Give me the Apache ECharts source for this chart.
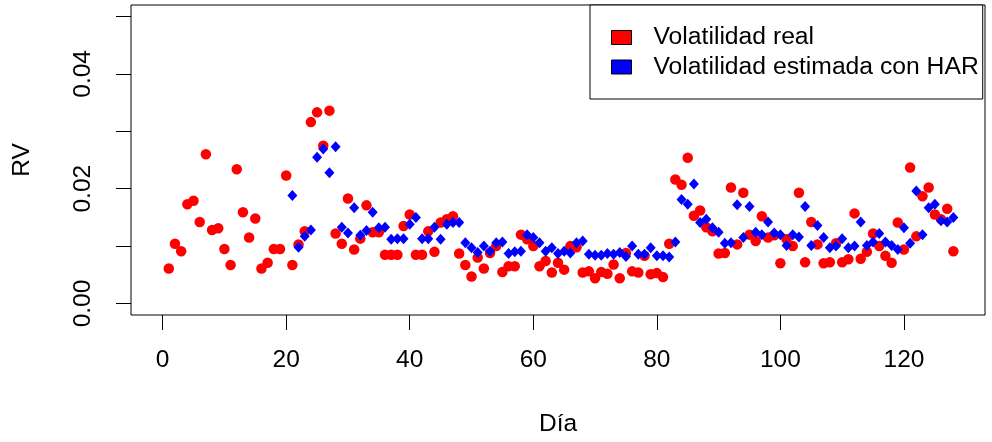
<!DOCTYPE html>
<html>
<head>
    <meta charset="utf-8">
    <title>Volatilidad real vs HAR</title>
    <script src="https://cdn.jsdelivr.net/npm/echarts@6/dist/echarts.min.js"></script>
    <style>
        html, body { margin: 0; padding: 0; background: #fff; }
        #chart1 { width: 992px; height: 442px; }
    </style>
</head>
<body>
<div id="chart1"></div>
<script type="text/javascript">
    // primer día de cada serie (el HAR necesita rezagos)
    const diaInicioReal = 1;
    const diaInicioHAR = 21;

    // volatilidad realizada, días 1..128
    const volReal = [
        0.0061, 0.0104, 0.0091, 0.0173, 0.0179, 0.0142, 0.0260, 0.0128, 0.0131, 0.0095,
        0.0067, 0.0234, 0.0159, 0.0115, 0.0148, 0.0061, 0.0071, 0.0095, 0.0095, 0.0223,
        0.0067, 0.0103, 0.0126, 0.0316, 0.0333, 0.0275, 0.0336, 0.0122, 0.0104, 0.0183,
        0.0094, 0.0113, 0.0171, 0.0124, 0.0124, 0.0085, 0.0085, 0.0085, 0.0135, 0.0155,
        0.0085, 0.0085, 0.0126, 0.0090, 0.0141, 0.0147, 0.0152, 0.0087, 0.0067, 0.0047,
        0.0080, 0.0061, 0.0088, 0.0100, 0.0055, 0.0065, 0.0065, 0.0120, 0.0112, 0.0100,
        0.0065, 0.0074, 0.0054, 0.0071, 0.0059, 0.0100, 0.0098, 0.0054, 0.0056, 0.0044,
        0.0055, 0.0052, 0.0068, 0.0044, 0.0088, 0.0056, 0.0054, 0.0083, 0.0051, 0.0053,
        0.0046, 0.0104, 0.0216, 0.0207, 0.0254, 0.0153, 0.0162, 0.0133, 0.0126, 0.0087,
        0.0088, 0.0202, 0.0103, 0.0193, 0.0120, 0.0109, 0.0152, 0.0115, 0.0119, 0.0070,
        0.0112, 0.0100, 0.0193, 0.0072, 0.0142, 0.0103, 0.0070, 0.0072, 0.0105, 0.0072,
        0.0077, 0.0157, 0.0078, 0.0090, 0.0122, 0.0100, 0.0083, 0.0071, 0.0141, 0.0094,
        0.0237, 0.0117, 0.0187, 0.0202, 0.0155, 0.0147, 0.0165, 0.0091
    ];

    // volatilidad estimada con HAR, días 21..128
    const volHAR = [
        0.0188, 0.0098, 0.0117, 0.0128, 0.0255, 0.0269, 0.0228, 0.0273, 0.0133, 0.0123,
        0.0167, 0.0119, 0.0127, 0.0159, 0.0132, 0.0133, 0.0112, 0.0113, 0.0113, 0.0138,
        0.0150, 0.0113, 0.0113, 0.0133, 0.0112, 0.0138, 0.0141, 0.0141, 0.0106, 0.0097,
        0.0089, 0.0100, 0.0091, 0.0106, 0.0107, 0.0087, 0.0090, 0.0091, 0.0120, 0.0115,
        0.0106, 0.0091, 0.0097, 0.0087, 0.0091, 0.0088, 0.0106, 0.0109, 0.0086, 0.0084,
        0.0084, 0.0087, 0.0086, 0.0089, 0.0082, 0.0100, 0.0086, 0.0086, 0.0097, 0.0083,
        0.0083, 0.0081, 0.0107, 0.0181, 0.0173, 0.0208, 0.0141, 0.0147, 0.0132, 0.0124,
        0.0105, 0.0106, 0.0172, 0.0115, 0.0169, 0.0124, 0.0120, 0.0142, 0.0123, 0.0120,
        0.0101, 0.0120, 0.0116, 0.0169, 0.0101, 0.0136, 0.0115, 0.0097, 0.0100, 0.0113,
        0.0097, 0.0100, 0.0142, 0.0101, 0.0107, 0.0122, 0.0107, 0.0101, 0.0094, 0.0132,
        0.0105, 0.0196, 0.0120, 0.0167, 0.0173, 0.0144, 0.0142, 0.0150
    ];

    const ticksX = [0, 20, 40, 60, 80, 100, 120];
    const ticksY = [0, 0.01, 0.02, 0.03, 0.04, 0.05];
    const etiquetasY = [0, 0.02, 0.04];

    const fuente = 'Liberation Sans, Arial, sans-serif';
    const tamTexto = 24.5;

    let myChart1 = echarts.init(document.getElementById('chart1'));

    myChart1.setOption({
        animation: false,
        backgroundColor: '#fff',
        grid: {
            left: 131, top: 5, right: 7, bottom: 125,
            show: true, borderColor: '#000', borderWidth: 1,
            backgroundColor: 'transparent'
        },
        legend: {
            left: 590, top: 5,
            orient: 'vertical',
            padding: [20, 4, 19.5, 21],
            itemGap: 4.5,
            itemWidth: 20, itemHeight: 14,
            borderColor: '#000', borderWidth: 1,
            backgroundColor: '#fff',
            textStyle: { fontFamily: fuente, fontSize: 24.7, color: '#000', padding: [0, 0, 0, 17] },
            data: [
                { name: 'Volatilidad real', icon: 'rect', itemStyle: { color: '#ff0000', borderColor: '#000', borderWidth: 1, opacity: 1 } },
                { name: 'Volatilidad estimada con HAR', icon: 'rect', itemStyle: { color: '#0000ff', borderColor: '#000', borderWidth: 1, opacity: 1 } }
            ]
        },
        xAxis: {
            type: 'value', min: -5.12, max: 133.12,
            splitLine: { show: false },
            axisLine: { show: false, onZero: false },
            axisTick: { show: true, length: 15, customValues: ticksX, lineStyle: { color: '#000' } },
            axisLabel: { customValues: ticksX, margin: 33, fontSize: tamTexto, color: '#000', fontFamily: fuente },
            name: 'Día', nameLocation: 'middle', nameGap: 97,
            nameTextStyle: { fontSize: tamTexto, color: '#000', fontFamily: fuente }
        },
        yAxis: {
            type: 'value', min: -0.002, max: 0.052,
            splitLine: { show: false },
            axisLine: { show: false, onZero: false },
            axisTick: { show: true, length: 15, customValues: ticksY, lineStyle: { color: '#000' } },
            axisLabel: {
                customValues: etiquetasY, rotate: 90, margin: 35, fontSize: tamTexto,
                color: '#000', fontFamily: fuente,
                formatter: function (v) { return v.toFixed(2); }
            },
            name: 'RV', nameLocation: 'middle', nameGap: 96, nameRotate: 90,
            nameTextStyle: { fontSize: tamTexto, color: '#000', fontFamily: fuente }
        },
        series: [
            {
                name: 'Volatilidad real', type: 'scatter', symbol: 'circle', symbolSize: 10.5,
                itemStyle: { color: '#ff0000', opacity: 1 },
                data: volReal.map(function (v, i) { return [diaInicioReal + i, v]; })
            },
            {
                name: 'Volatilidad estimada con HAR', type: 'scatter', symbol: 'diamond', symbolSize: [10, 11],
                itemStyle: { color: '#0000ff', opacity: 1 },
                data: volHAR.map(function (v, i) { return [diaInicioHAR + i, v]; })
            }
        ]
    });
</script>
</body>
</html>
